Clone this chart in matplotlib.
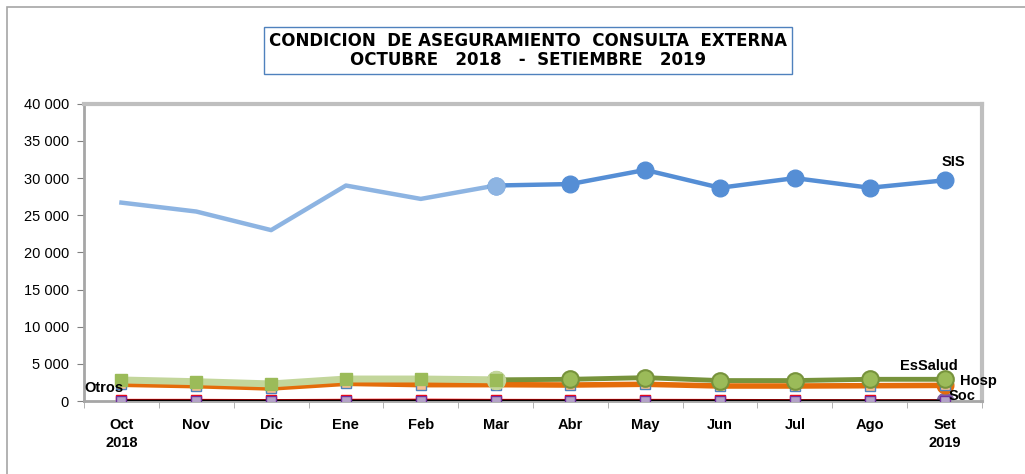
from matplotlib import pyplot as plt
from matplotlib.patches import Rectangle

plt.rcParams['font.family'] = ['Liberation Sans', 'DejaVu Sans']

meses = ['Oct\n2018', 'Nov', 'Dic', 'Ene', 'Feb', 'Mar', 'Abr', 'May', 'Jun', 'Jul', 'Ago', 'Set\n2019']
sis = [26700, 25500, 23000, 29000, 27200, 29000, 29200, 31100, 28700, 30000, 28700, 29700]
essalud = [2830, 2600, 2300, 2960, 2960, 2850, 2920, 3140, 2750, 2750, 2920, 2920]
hosp = [2250, 2060, 1750, 2380, 2200, 2200, 2150, 2250, 2020, 2020, 2060, 2100]
otros = [150, 150, 120, 160, 180, 150, 140, 150, 140, 120, 110, 110]
soc = [60, 60, 50, 60, 60, 60, 60, 60, 60, 60, 60, 60]

x = list(range(len(meses)))
x1 = x[:6]
x2 = x[5:]

fig = plt.figure(figsize=(10.25, 4.74), dpi=100)
ax = fig.add_axes([0.082, 0.154, 0.876, 0.627])

# Otros / Soc
ax.plot(x, otros, color='#FF0000', lw=1.5, marker='s', ms=7, mfc='none', mec='#FF0000', zorder=2)
ax.plot(x, soc, color='black', lw=1.5, marker='s', ms=7, mfc='#B3A2C7', mec='#7030A0', zorder=3)
ax.plot([11], [soc[11]], marker='o', ms=12, color='#8064A2', zorder=2)

# Hosp
ax.plot(x, hosp, color='#E46C0A', lw=4, marker='s', ms=7, mfc='#FAC090', mec='#4F81BD', zorder=4)
ax.plot([11], [hosp[11]], marker='o', ms=12, color='#E46C0A', zorder=3)

# EsSalud
ax.plot(x1, essalud[:6], color='#C3D69B', lw=5, marker='s', ms=9, mfc='#9BBB59', mec='#9BBB59', zorder=5)
ax.plot(x2, essalud[5:], color='#77933C', lw=3.5, marker='o', ms=12, mfc='#9BBB59', mec='#77933C', mew=1.5, zorder=5)
ax.plot([5], [essalud[5]], marker='o', ms=13, color='#C3D69B', zorder=6)
ax.plot([5], [essalud[5]], marker='s', ms=9, color='#9BBB59', zorder=7)

# SIS
ax.plot(x1, sis[:6], color='#8DB4E2', lw=3.2, zorder=5)
ax.plot(x2, sis[5:], color='#558ED5', lw=3.2, marker='o', ms=12, zorder=5)
ax.plot([5], [sis[5]], marker='o', ms=12, color='#8DB4E2', zorder=6)

ax.set_xlim(-0.5, 11.5)
ax.set_ylim(0, 40000)
ax.set_yticks(range(0, 40001, 5000))
ax.set_yticklabels([f'{v:,}'.replace(',', ' ') for v in range(0, 40001, 5000)], fontsize=10.5)
ax.set_xticks(x)
ax.set_xticklabels(meses, fontsize=10.5, fontweight='bold', linespacing=1.4)
ax.set_xticks([i + 0.5 for i in range(-1, 12)], minor=True)
ax.tick_params(axis='x', which='major', length=0, pad=12)
ax.tick_params(axis='x', which='minor', length=5, color='#A6A6A6')
ax.tick_params(axis='y', length=5, color='#808080', pad=6)

for s in ['top', 'right']:
    ax.spines[s].set_color('#BFBFBF')
    ax.spines[s].set_linewidth(3)
ax.spines['left'].set_color('#A6A6A6')
ax.spines['left'].set_linewidth(2)
ax.spines['bottom'].set_color('#A6A6A6')
ax.spines['bottom'].set_linewidth(2)

lab = dict(va='center', fontsize=10.5, fontweight='bold', zorder=10, clip_on=False)
ax.text(11.12, 32200, 'SIS', ha='center', **lab)
ax.text(10.79, 4750, 'EsSalud', ha='center', **lab)
ax.text(11.2, 2700, 'Hosp', ha='left', **lab)
ax.text(11.05, 700, 'Soc', ha='left', **lab)
ax.text(-0.23, 1750, 'Otros', ha='center', **lab)

fig.text(0.515, 0.893, 'CONDICION  DE ASEGURAMIENTO  CONSULTA  EXTERNA\nOCTUBRE   2018   -  SETIEMBRE   2019',
         ha='center', va='center', fontsize=12, fontweight='bold', linespacing=1.1,
         family='DejaVu Sans',
         bbox=dict(boxstyle='square,pad=0.3', fc='white', ec='#4F81BD', lw=1))

fig.patches.append(Rectangle((7 / 1025, -0.1), 1.2, 1 - 7 / 474 + 0.1, transform=fig.transFigure,
                             fill=False, ec='#A6A6A6', lw=1.2))

plt.savefig('out.png', dpi=100)
